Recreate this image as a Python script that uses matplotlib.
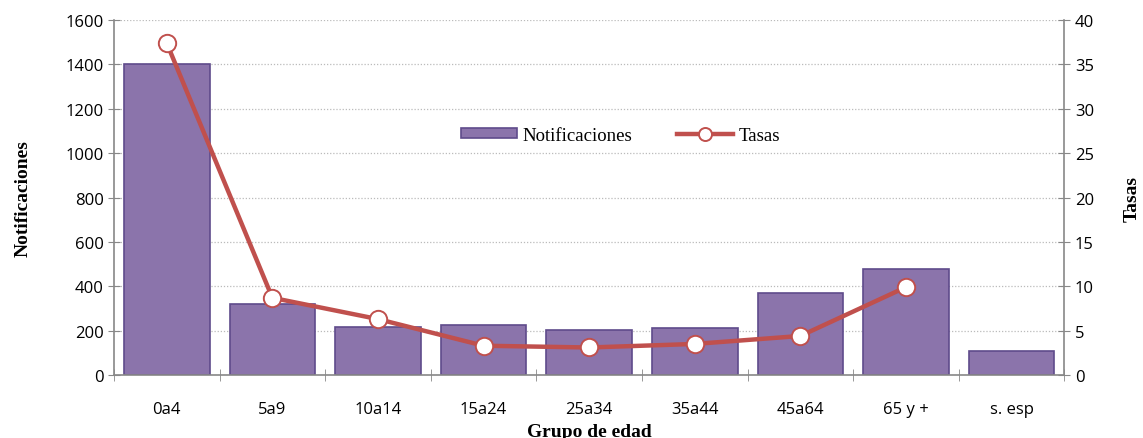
import matplotlib
matplotlib.use("Agg")
import matplotlib.pyplot as plt
import numpy as np

categories = ["0a4", "5a9", "10a14", "15a24", "25a34", "35a44", "45a64", "65 y +", "s. esp"]
notificaciones = [1400, 318, 218, 225, 202, 210, 368, 476, 108]
tasas = [37.4, 8.7, 6.3, 3.3, 3.1, 3.5, 4.4, 9.9]

fig = plt.figure(figsize=(11.43, 4.39), dpi=100)
ax = fig.add_axes([0.0997, 0.1435, 0.8315, 0.8085])
x = np.arange(len(categories))
bars = ax.bar(x, notificaciones, width=0.81, color="#8B74AB", edgecolor="#5F4B8B",
              linewidth=1.2, label="Notificaciones", zorder=2)
ax.set_xlim(-0.5, len(categories) - 0.5)
ax.set_ylim(0, 1600)
ax.set_yticks(range(0, 1601, 200))
ax.grid(axis="y", linestyle=(0, (1, 1.5)), color="#BBBBBB", linewidth=0.9, zorder=0)
ax.set_axisbelow(True)

tick_font = dict(family="Open Sans", size=12)
ax.set_xticks(x)
ax.set_xticklabels(categories, **tick_font)
ax.set_xticks(np.arange(-0.5, len(categories)), minor=True)
ax.tick_params(axis="x", which="major", length=0, pad=19)
ax.tick_params(axis="x", which="minor", length=8, direction="inout", color="#888888")
ax.tick_params(axis="y", length=8, direction="inout", color="#888888", labelsize=12)
for lab in ax.get_yticklabels():
    lab.set_family("Open Sans")

for s in ["top", "right"]:
    ax.spines[s].set_visible(False)
for s in ["left", "bottom"]:
    ax.spines[s].set_color("#888888")
    ax.spines[s].set_linewidth(1.2)

label_font = dict(family="Liberation Serif", fontweight="bold", fontsize=14)
ax.set_ylabel("Notificaciones", labelpad=24, **label_font)
ax.set_xlabel("Grupo de edad", labelpad=4, **label_font)

ax2 = ax.twinx()
ax2.set_ylim(0, 40)
ax2.set_yticks(range(0, 41, 5))
line, = ax2.plot(x[:len(tasas)], tasas, color="#C0504D", linewidth=3.2, marker="o",
                 markersize=12.5, markerfacecolor="white", markeredgecolor="#C0504D",
                 markeredgewidth=1.4, label="Tasas", zorder=3)
ax2.tick_params(axis="y", length=8, direction="inout", color="#888888", labelsize=12)
for lab in ax2.get_yticklabels():
    lab.set_family("Open Sans")
for s in ["top", "left", "bottom"]:
    ax2.spines[s].set_visible(False)
ax2.spines["right"].set_color("#888888")
ax2.spines["right"].set_linewidth(1.2)
ax2.set_ylabel("Tasas", labelpad=21, **label_font)

leg = ax.legend([bars, line], ["Notificaciones", "Tasas"], loc="center",
                bbox_to_anchor=(0.533, 0.676), ncol=2, frameon=False,
                prop=dict(family="Liberation Serif", size=13.5),
                handlelength=3.0, columnspacing=2.4, handleheight=0.45, handletextpad=0.3,
                markerscale=0.75)
leg.set_zorder(5)

fig.savefig("out.png", dpi=100)
